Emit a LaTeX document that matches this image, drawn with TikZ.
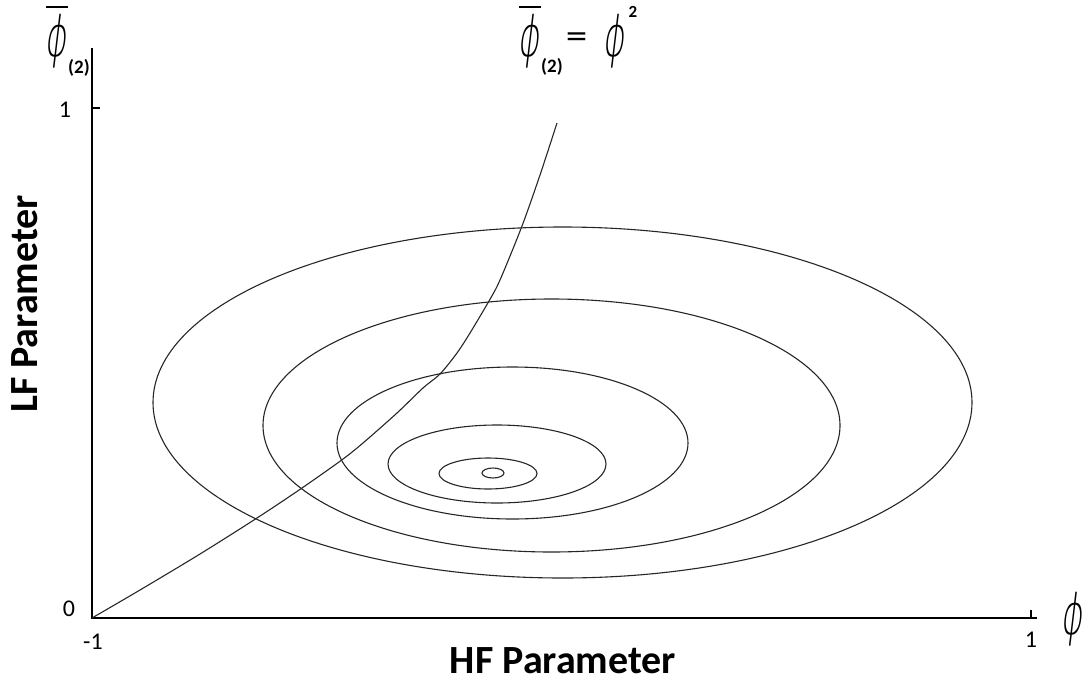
\documentclass[tikz,border=0pt]{standalone}
\usepackage{fontspec}
\setmainfont{Carlito}
\newfontfamily\phifontB[FakeSlant=0.2]{DejaVu Sans}
\newfontfamily\eqfont{DejaVu Sans}
\IfFontExistsTF{DejaVu Sans ExtraLight}
  {\newfontfamily\phifont[FakeSlant=0.2]{DejaVu Sans ExtraLight}}
  {\newfontfamily\phifont[FakeSlant=0.2]{DejaVu Sans}}
\usepackage{graphicx}
\newcommand{\phichar}{\phifont\iffontchar\font"03D5 \symbol{"03D5}\else{\phifontB\symbol{"03D5}}\fi}
\newcommand{\bigphi}{\scalebox{0.6}[1]{\fontsize{56}{56}\selectfont\phichar}}
\newcommand{\bigphibar}{\scalebox{0.6}[1]{\fontsize{56}{56}\selectfont\vbox{\hrule height 1.4pt width 36pt\kern 6pt\hbox to 36pt{\hss\phichar\hss\kern 5pt}}}}
\begin{document}
\begin{tikzpicture}[x=1pt,y=-1pt,
  curve/.style={line width=1.1pt, black!85},
  axis/.style={line width=1.7pt, black},
  num/.style={font=\fontsize{24}{24}\selectfont, inner sep=0pt},
  axlabel/.style={font=\fontsize{40}{40}\selectfont\bfseries, inner sep=0pt},
  sym/.style={inner sep=0pt, anchor=base},
  sub/.style={font=\fontsize{19}{19}\selectfont\bfseries, inner sep=0pt}]
\useasboundingbox (0,0) rectangle (1090,683);
% axes
\coordinate (O) at (92,618);
\coordinate (ytop) at (92,48);
\coordinate (xend) at (1037,618);
\coordinate (ytick) at (92,108);
\coordinate (ytickend) at (100,108);
\coordinate (xtick) at (1031,618);
\coordinate (xtickend) at (1031,610);
\draw[axis] (ytop) -- (O) -- (xend);
\draw[axis] (ytick) -- (ytickend);
\draw[axis] (xtick) -- (xtickend);
% tick labels
\node[num] (y1) at (65,110) {1};
\node[num] (y0) at (69,609) {0};
\node[num] (xm1) at (93,642) {-1};
\node[num] (x1) at (1031,640) {1};
% axis titles
\node[axlabel] (hf) at (563,661) {HF Parameter};
\node[axlabel, rotate=90] (lf) at (25,304) {LF Parameter};
% symbols
\node[sym] (phibarL) at (57,56) {\bigphibar};
\node[sub, anchor=west] (subL) at (phibarL.base east) [yshift=-12pt] {(2)};
\node[sym] (phibarC) at (530,56) {\bigphibar};
\node[sub, anchor=west] (subC) at (phibarC.base east) [yshift=-11pt] {(2)};
\node[inner sep=0pt] (eq) at (576.5,39) {\fontsize{28}{28}\selectfont\eqfont =};
\node[sym] (phiC) at (614,56) {\bigphi};
\node[font=\fontsize{17}{17}\selectfont\bfseries, inner sep=0pt] (supC) at (633,12) {2};
\node[sym] (phiR) at (1071.5,634) {\bigphi};
% contours
\draw[curve] (562.5,402.5) ellipse [x radius=409.5pt, y radius=175.5pt];
\draw[curve] (551.5,425.5) ellipse [x radius=288.5pt, y radius=126.5pt];
\draw[curve] (512.5,443) ellipse [x radius=175.5pt, y radius=76pt];
\draw[curve] (497,464) ellipse [x radius=109pt, y radius=39pt];
\draw[curve] (488,473.5) ellipse [x radius=49pt, y radius=15.5pt];
\draw[curve] (493,473) ellipse [x radius=11pt, y radius=5pt];
% constraint curve
\draw[curve] plot[smooth, tension=0.5] coordinates {(92,618) (140,590) (200,554) (257,518) (302,488) (341.7,460) (363,443) (397,413) (423,388) (440,374) (457,353) (470,333) (489,301) (500,280) (522,226) (540,175) (557,123)};
\end{tikzpicture}
\end{document}
